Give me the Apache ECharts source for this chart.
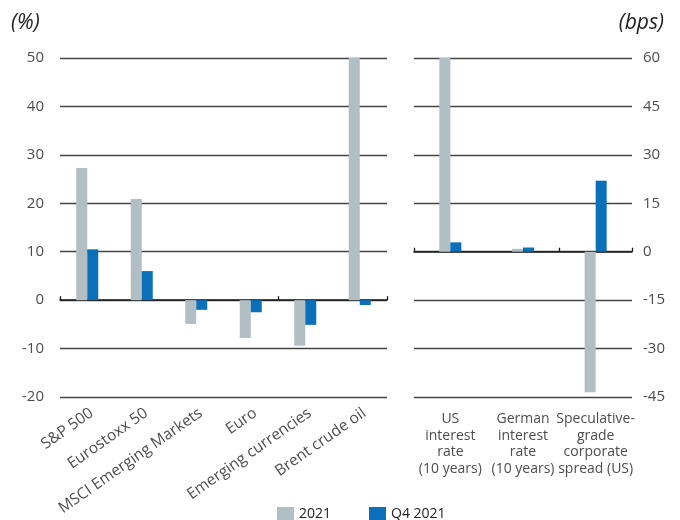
<!DOCTYPE html>
<html>
<head>
<meta charset="utf-8">
<script src="https://cdn.jsdelivr.net/npm/echarts@6/dist/echarts.min.js"></script>
<style>
  html, body { margin: 0; padding: 0; background: #fff; }
  #chart { width: 680px; height: 520px; }
</style>
</head>
<body>
<div id="chart"></div>
<script>
// Market moves (%), left panel
const marketCategories = ['S&P 500', 'Eurostoxx 50', 'MSCI Emerging Markets', 'Euro', 'Emerging currencies', 'Brent crude oil'];
const marketYear = [27.3, 20.9, -4.9, -7.8, -9.4, 50];
const marketQ4 = [10.5, 6.0, -2.0, -2.5, -5.1, -1.0];

// Rate and spread changes (bps), right panel
const rateCategories = ['US\ninterest\nrate\n(10 years)', 'German\ninterest\nrate\n(10 years)', 'Speculative-\ngrade\ncorporate\nspread (US)'];
const rateYear = [60, 0.9, -43.5];
const rateQ4 = [2.9, 1.3, 22];

const seriesNames = ['2021', 'Q4 2021'];
const leftTicks = { min: -20, max: 50, interval: 10 };
const rightTicks = { min: -45, max: 60, interval: 15 };

const GREY = '#b1bec3';
const BLUE = '#0a70ba';
const FONT = 'Open Sans';

const chart = echarts.init(document.getElementById('chart'), null, { renderer: 'canvas' });

const gridLine = { show: true, lineStyle: { color: '#444', width: 1.3 } };
const valueLabel = { color: '#4d4d4d', fontSize: 15, fontFamily: FONT };

function labelAxis(gridIndex, data, labelOpts) {
  return {
    type: 'category', gridIndex, data, position: 'bottom',
    axisLine: { show: false, onZero: false },
    axisTick: { show: false },
    axisLabel: Object.assign({ interval: 0, color: '#4d4d4d', fontSize: 14, fontFamily: FONT }, labelOpts)
  };
}
function zeroAxis(gridIndex, data) {
  return {
    type: 'category', gridIndex, data, position: 'bottom',
    axisLine: { show: true, onZero: true, lineStyle: { color: '#1a1a1a', width: 1.5 } },
    axisTick: { show: true, inside: true, length: 4, lineStyle: { color: '#1a1a1a', width: 1.3 } },
    axisLabel: { show: false }
  };
}

const barBase = { type: 'bar', barWidth: 11, barGap: '0%', animation: false };

chart.setOption({
  animation: false,
  grid: [
    { left: 60, right: 293, top: 58, bottom: 123 },
    { left: 414, right: 48, top: 58, bottom: 123 }
  ],
  xAxis: [
    labelAxis(0, marketCategories, { rotate: 35, margin: 8, fontSize: 15.5, verticalAlign: 'top' }),
    zeroAxis(0, marketCategories),
    labelAxis(1, rateCategories, { margin: 14, lineHeight: 16.5 }),
    zeroAxis(1, rateCategories)
  ],
  yAxis: [
    {
      type: 'value', gridIndex: 0, position: 'left',
      min: leftTicks.min, max: leftTicks.max, interval: leftTicks.interval,
      axisLine: { show: false }, axisTick: { show: false },
      axisLabel: Object.assign({ margin: 16 }, valueLabel),
      splitLine: gridLine
    },
    {
      type: 'value', gridIndex: 1, position: 'right',
      min: rightTicks.min, max: rightTicks.max, interval: rightTicks.interval,
      axisLine: { show: false }, axisTick: { show: false },
      axisLabel: Object.assign({ margin: 11 }, valueLabel),
      splitLine: gridLine
    }
  ],
  legend: {
    data: seriesNames,
    left: 272, top: 502,
    itemWidth: 17, itemHeight: 15, itemGap: 38,
    icon: 'rect',
    textStyle: { color: '#222', fontSize: 14, fontFamily: FONT }
  },
  graphic: [
    { type: 'text', left: 11, top: 13, style: { text: '(%)', fontSize: 21, fontStyle: 'italic', fontFamily: FONT, fill: '#222' } },
    { type: 'text', right: 16, top: 13, style: { text: '(bps)', fontSize: 21, fontStyle: 'italic', fontFamily: FONT, fill: '#222' } }
  ],
  series: [
    Object.assign({}, barBase, { name: seriesNames[0], xAxisIndex: 0, yAxisIndex: 0, data: marketYear, itemStyle: { color: GREY } }),
    Object.assign({}, barBase, { name: seriesNames[1], xAxisIndex: 0, yAxisIndex: 0, data: marketQ4, itemStyle: { color: BLUE } }),
    Object.assign({}, barBase, { name: seriesNames[0], xAxisIndex: 2, yAxisIndex: 1, data: rateYear, itemStyle: { color: GREY } }),
    Object.assign({}, barBase, { name: seriesNames[1], xAxisIndex: 2, yAxisIndex: 1, data: rateQ4, itemStyle: { color: BLUE } })
  ]
});
</script>
</body>
</html>
